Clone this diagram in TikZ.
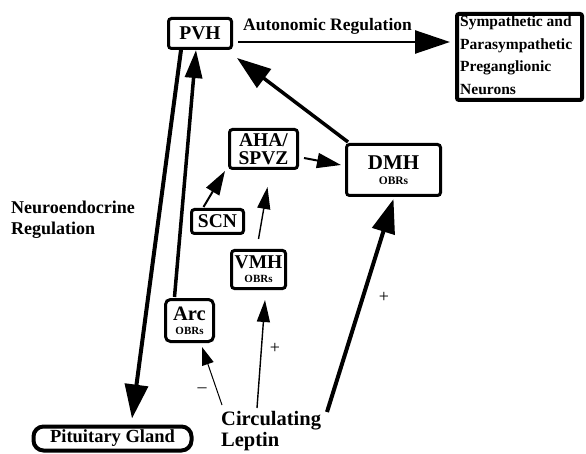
\documentclass[tikz,border=0pt]{standalone}
\usepackage{fontspec}
\setmainfont{Liberation Serif}
\usetikzlibrary{arrows.meta,calc}
\begin{document}
\begin{tikzpicture}[x=1pt,y=-1pt,
  box/.style={draw, line width=3pt, rounded corners=3pt, inner sep=0pt, align=center},
  txt/.style={inner sep=0pt, align=left, anchor=north west},
  sgn/.style={inner sep=0pt, font=\fontsize{18}{18}\selectfont},
  bigarrow/.style={line width=4pt, -{Triangle[length=34pt,width=23pt]}},
  arcarrow/.style={line width=3.5pt, -{Triangle[length=28pt,width=17pt]}},
  medarrow/.style={line width=2pt, -{Triangle[length=24pt,width=15pt]}},
  thinarrow/.style={line width=1.4pt, -{Triangle[length=22pt,width=13pt]}},
  hairarrow/.style={line width=1pt, -{Triangle[length=18pt,width=12pt]}}]
\useasboundingbox (0,0) rectangle (586,454);
\fill[white] (0,0) rectangle (586,454);

% boxes
\node[box, minimum width=63pt, minimum height=30pt, font=\bfseries\fontsize{19.5}{19}\selectfont] (pvh) at (200,33.5) {PVH};
\node[box, line width=4pt, rounded corners=2pt, minimum width=125pt, minimum height=86pt] (symp) at (519.5,57) {};
\node[txt, font=\bfseries\fontsize{15.5}{22.5}\selectfont] (symptxt) at (460,16) {Sympathetic and\\Parasympathetic\\Preganglionic\\Neurons};
\node[box, minimum width=68pt, minimum height=39pt, font=\bfseries\fontsize{19.5}{18}\selectfont] (aha) at (263.5,149) {AHA/\\SPVZ};
\node[box, minimum width=94pt, minimum height=51pt, font=\bfseries\fontsize{21}{15}\selectfont] (dmh) at (393.5,170) {DMH\\{\fontsize{11.5}{11.5}\selectfont OBRs}};
\node[box, minimum width=52pt, minimum height=24pt, font=\bfseries\fontsize{19.5}{19}\selectfont] (scn) at (217.5,221.5) {SCN};
\node[box, minimum width=54pt, minimum height=38pt, font=\bfseries\fontsize{19.5}{14}\selectfont] (vmh) at (258.5,269.5) {VMH\\{\fontsize{11}{11}\selectfont OBRs}};
\node[box, minimum width=48pt, minimum height=42pt, rounded corners=5pt, font=\bfseries\fontsize{20.5}{14}\selectfont] (arc) at (189.5,320.5) {Arc\\{\fontsize{11}{11}\selectfont OBRs}};
\node[box, line width=4pt, rounded corners=10pt, minimum width=158pt, minimum height=24pt, font=\bfseries\fontsize{18.5}{18}\selectfont] (pit) at (112.5,438.5) {Pituitary Gland};

% free texts
\node[txt, font=\bfseries\fontsize{17.5}{17.5}\selectfont] (auto) at (243,18) {Autonomic Regulation};
\node[txt, font=\bfseries\fontsize{18}{21}\selectfont] (neuro) at (11,201) {Neuroendocrine\\Regulation};
\node[txt, font=\bfseries\fontsize{20.5}{21}\selectfont] (lep) at (221,411) {Circulating\\Leptin};

% connectors
\draw[medarrow, line width=2.5pt, -{Triangle[length=35pt,width=23pt]}] ($(pvh.east)+(5,8.5)$) -- ($(symp.west)+(-5,-15)$);
\draw[bigarrow] ($(pvh.south)+(-19,0)$) -- ($(pit.north)+(19.5,-6)$);
\draw[arcarrow] ($(arc.north)+(-15,-1)$) -- ($(pvh.south)+(-4,0)$);
\draw[bigarrow, line width=3.5pt] ($(dmh.north west)+(3,-1)$) -- ($(pvh.south east)+(4,8)$);
\draw[medarrow] ($(aha.east)+(5,9)$) -- ($(dmh.west)+(-4,-5)$);
\draw[medarrow] ($(scn.north)+(-14,-1)$) -- ($(aha.south west)+(-3,1)$);
\draw[thinarrow] ($(vmh.north)+(0,-10)$) -- ($(aha.south)+(4,17)$);
\draw[hairarrow] ($(lep.north west)+(1,-6)$) -- ($(arc.south)+(12.5,4)$);
\draw[thinarrow] ($(lep.north west)+(36,-3)$) -- ($(vmh.south)+(6.5,10)$);
\draw[bigarrow] ($(lep.north west)+(106,1)$) -- ($(dmh.south)+(0,2)$);

% signs
\node[sgn] (minus) at (202,390) {--};
\node[sgn] (plusvmh) at (275,348) {+};
\node[sgn] (plusdmh) at (384,297) {+};
\end{tikzpicture}
\end{document}
